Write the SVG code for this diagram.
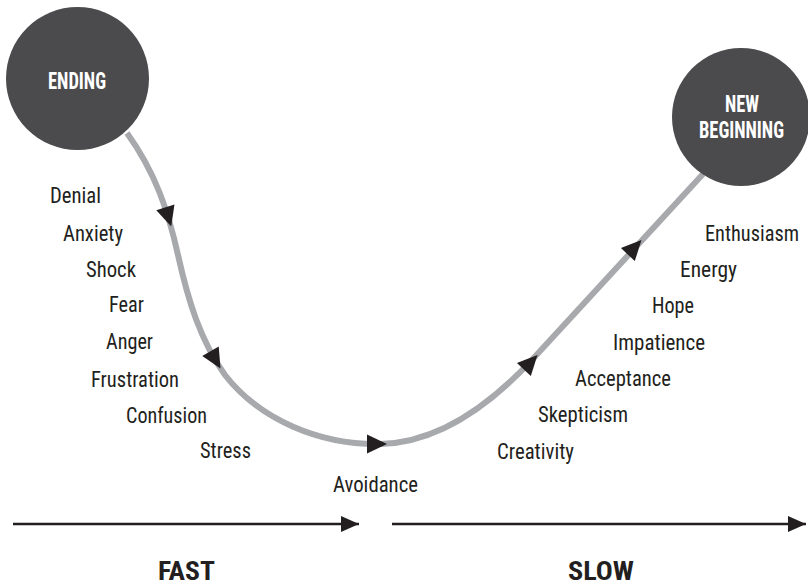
<svg xmlns="http://www.w3.org/2000/svg" width="808" height="585" viewBox="0 0 808 585">
<style>
.node circle{fill:#4b4b4d}
.title{font-family:"Liberation Sans Narrow","Roboto Condensed","Liberation Sans",sans-serif;font-weight:bold;fill:#ffffff;font-size:23px;text-anchor:middle}
.lbl{font-family:"Liberation Sans Narrow","Roboto Condensed","Liberation Sans",sans-serif;fill:#231f20;font-size:22px}
.speed{font-family:"Liberation Sans Narrow","Roboto Condensed","Liberation Sans",sans-serif;font-weight:bold;fill:#231f20;font-size:26px}
.curve{fill:none;stroke:#a7a9ac;stroke-width:6}
.axis{stroke:#231f20;stroke-width:2.5;fill:none}
.head{fill:#231f20}
</style>
<defs>
<path id="tri" d="M11,0 L-9,-9.5 L-9,9.5 Z"/>
<marker id="ah" markerWidth="20" markerHeight="16" refX="18" refY="8" orient="auto" markerUnits="userSpaceOnUse">
<path d="M0,0 L18,8 L0,16 Z" fill="#231f20"/>
</marker>
</defs>
<g id="connectors">
<path class="curve" d="M127,133 C155,172 168,210 178,255 C188,300 200,340 225,375 C260,420 320,445 380,444 C430,443 480,415 530,362 L703,174"/>
<use href="#tri" class="head" transform="translate(168,216) rotate(73)"/>
<use href="#tri" class="head" transform="translate(215,359) rotate(60)"/>
<use href="#tri" class="head" transform="translate(376,444)"/>
<use href="#tri" class="head" transform="translate(530,363) rotate(-47)"/>
<use href="#tri" class="head" transform="translate(634,248) rotate(-47)"/>
<line class="axis" x1="13" y1="524" x2="359" y2="524" marker-end="url(#ah)"/>
<line class="axis" x1="392" y1="524" x2="806" y2="524" marker-end="url(#ah)"/>
</g>
<g id="node-ending" class="node">
<circle cx="77.5" cy="78.5" r="71.5"/>
<text class="title" x="77" y="89" textLength="58" lengthAdjust="spacingAndGlyphs">ENDING</text>
</g>
<g id="node-new-beginning" class="node">
<circle cx="741" cy="117" r="69"/>
<text class="title" x="742" y="112" textLength="34" lengthAdjust="spacingAndGlyphs">NEW</text>
<text class="title" x="741.5" y="138" textLength="85" lengthAdjust="spacingAndGlyphs">BEGINNING</text>
</g>
<g id="labels-left">
<text class="lbl" x="50" y="203" textLength="51" lengthAdjust="spacingAndGlyphs">Denial</text>
<text class="lbl" x="63" y="241" textLength="60" lengthAdjust="spacingAndGlyphs">Anxiety</text>
<text class="lbl" x="86" y="277" textLength="50" lengthAdjust="spacingAndGlyphs">Shock</text>
<text class="lbl" x="109" y="312" textLength="35" lengthAdjust="spacingAndGlyphs">Fear</text>
<text class="lbl" x="106" y="349" textLength="47" lengthAdjust="spacingAndGlyphs">Anger</text>
<text class="lbl" x="91" y="387" textLength="88" lengthAdjust="spacingAndGlyphs">Frustration</text>
<text class="lbl" x="126" y="423" textLength="81" lengthAdjust="spacingAndGlyphs">Confusion</text>
<text class="lbl" x="200" y="458" textLength="51" lengthAdjust="spacingAndGlyphs">Stress</text>
</g>
<g id="label-bottom">
<text class="lbl" x="333" y="492" textLength="85" lengthAdjust="spacingAndGlyphs">Avoidance</text>
</g>
<g id="labels-right">
<text class="lbl" x="497" y="459" textLength="77" lengthAdjust="spacingAndGlyphs">Creativity</text>
<text class="lbl" x="538" y="422" textLength="90" lengthAdjust="spacingAndGlyphs">Skepticism</text>
<text class="lbl" x="575" y="386" textLength="96" lengthAdjust="spacingAndGlyphs">Acceptance</text>
<text class="lbl" x="613" y="350" textLength="92" lengthAdjust="spacingAndGlyphs">Impatience</text>
<text class="lbl" x="652" y="313" textLength="42" lengthAdjust="spacingAndGlyphs">Hope</text>
<text class="lbl" x="680" y="277" textLength="57" lengthAdjust="spacingAndGlyphs">Energy</text>
<text class="lbl" x="705" y="241" textLength="94" lengthAdjust="spacingAndGlyphs">Enthusiasm</text>
</g>
<g id="speed-labels">
<text class="speed" x="158" y="580" textLength="57" lengthAdjust="spacingAndGlyphs">FAST</text>
<text class="speed" x="568" y="580" textLength="66" lengthAdjust="spacingAndGlyphs">SLOW</text>
</g>
</svg>
